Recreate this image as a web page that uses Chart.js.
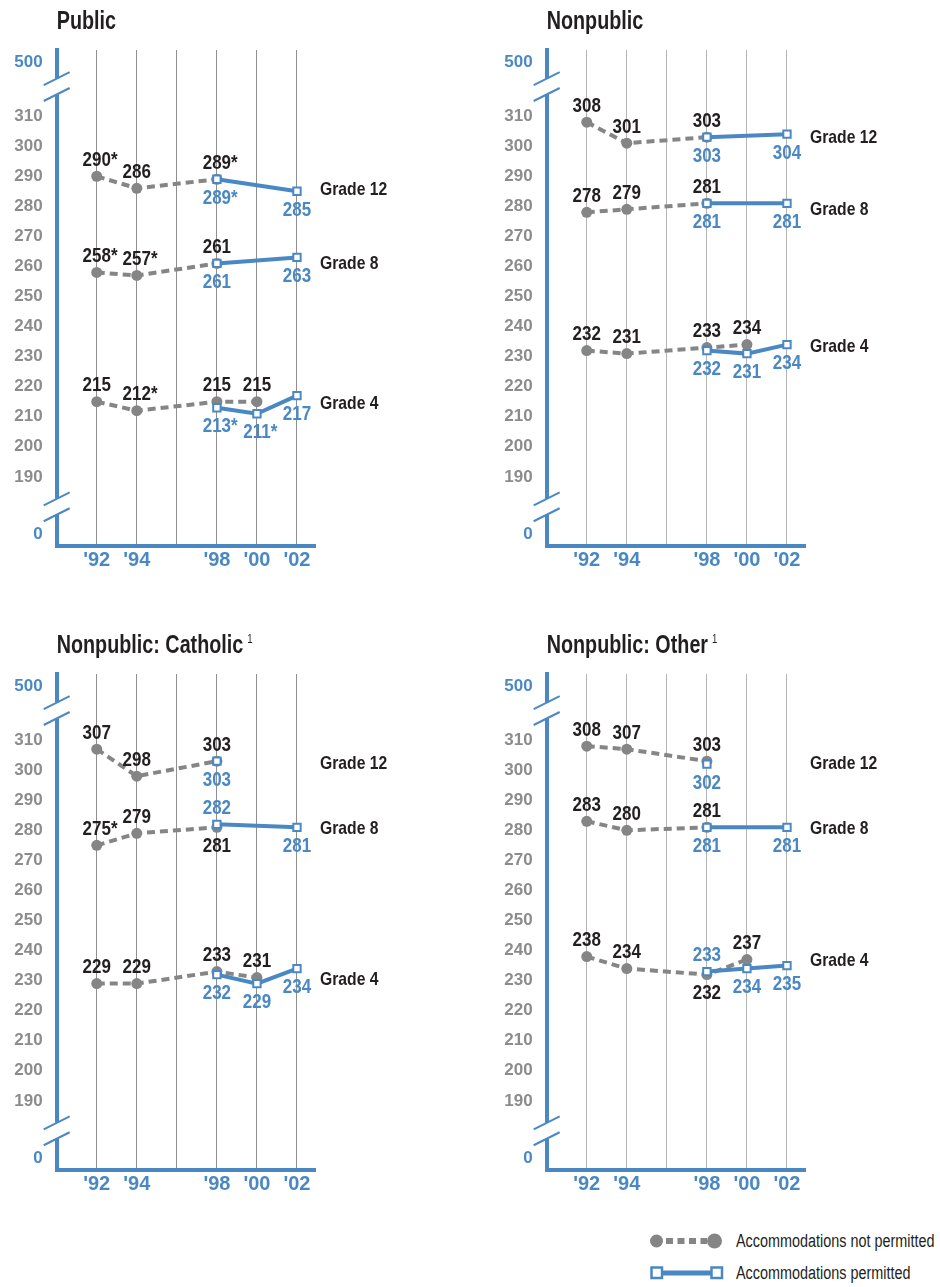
<!DOCTYPE html>
<html>
<head>
<meta charset="utf-8">
<script src="https://cdn.jsdelivr.net/npm/chart.js@4.4.0/dist/chart.umd.min.js"></script>
<style>
body { margin:0; background:#fff; width:940px; height:1287px; position:relative; overflow:hidden;
       font-family:'Liberation Sans',Arial,sans-serif; color:#231f20; }
canvas { position:absolute; }
.lg { position:absolute; left:650px; height:22px; display:flex; align-items:center; }
.lg span { position:absolute; left:86px; white-space:nowrap; font-size:18px; transform:scaleX(0.8); transform-origin:left center; }
</style>
</head>
<body>
<canvas id="c0" width="470" height="600" style="left:0;top:0"></canvas>
<canvas id="c1" width="450" height="600" style="left:490px;top:0"></canvas>
<canvas id="c2" width="470" height="600" style="left:0;top:624px"></canvas>
<canvas id="c3" width="450" height="600" style="left:490px;top:624px"></canvas>

<div class="lg" style="top:1230px">
  <svg width="74" height="18"><circle cx="6.5" cy="9" r="6.5" fill="#858585"/><line x1="16" y1="9" x2="57" y2="9" stroke="#858585" stroke-width="6" stroke-dasharray="7 4.5"/><circle cx="64.5" cy="9" r="7.5" fill="#858585"/></svg>
  <span>Accommodations not permitted</span>
</div>
<div class="lg" style="top:1262px">
  <svg width="74" height="18"><line x1="12" y1="9" x2="61" y2="9" stroke="#4a88c4" stroke-width="5"/><rect x="1.5" y="3.5" width="10.5" height="10.5" fill="#fff" stroke="#4a88c4" stroke-width="2.5"/><rect x="61.5" y="3.5" width="10.5" height="10.5" fill="#fff" stroke="#4a88c4" stroke-width="2.5"/></svg>
  <span>Accommodations permitted</span>
</div>

<script>
// years assessed and the gridline years on the x axis
const years = [1992, 1994, 1998, 2000, 2002];
const gridYears = [1992, 1994, 1996, 1998, 2000, 2002];
const xTickLabels = ["'92", "'94", "", "'98", "'00", "'02"];
// broken y axis: 0 and 500 sit beyond the breaks
const yTicks = [171, 190, 200, 210, 220, 230, 240, 250, 260, 270, 280, 290, 300, 310, 328];
const yTickLabels = ['0', '190', '200', '210', '220', '230', '240', '250', '260', '270', '280', '290', '300', '310', '500'];
const grades = ['Grade 12', 'Grade 8', 'Grade 4'];

// Public
const pubG12Not = [290, 286, 289, null, null];
const pubG12Acc = [null, null, 289, null, 285];
const pubG8Not = [258, 257, 261, null, null];
const pubG8Acc = [null, null, 261, null, 263];
const pubG4Not = [215, 212, 215, 215, null];
const pubG4Acc = [null, null, 213, 211, 217];
// * significantly different from 2002
const pubG12NotSig = [1, 0, 1, 0, 0];
const pubG12AccSig = [0, 0, 1, 0, 0];
const pubG8NotSig = [1, 1, 0, 0, 0];
const pubG4NotSig = [0, 1, 0, 0, 0];
const pubG4AccSig = [0, 0, 1, 1, 0];

// Nonpublic
const nonG12Not = [308, 301, 303, null, null];
const nonG12Acc = [null, null, 303, null, 304];
const nonG8Not = [278, 279, 281, null, null];
const nonG8Acc = [null, null, 281, null, 281];
const nonG4Not = [232, 231, 233, 234, null];
const nonG4Acc = [null, null, 232, 231, 234];

// Nonpublic: Catholic
const catG12Not = [307, 298, 303, null, null];
const catG12Acc = [null, null, 303, null, null];
const catG8Not = [275, 279, 281, null, null];
const catG8Acc = [null, null, 282, null, 281];
const catG4Not = [229, 229, 233, 231, null];
const catG4Acc = [null, null, 232, 229, 234];
const catG8NotSig = [1, 0, 0, 0, 0];

// Nonpublic: Other
const othG12Not = [308, 307, 303, null, null];
const othG12Acc = [null, null, 302, null, null];
const othG8Not = [283, 280, 281, null, null];
const othG8Acc = [null, null, 281, null, 281];
const othG4Not = [238, 234, 232, 237, null];
const othG4Acc = [null, null, 233, 234, 235];

// where the grade name sits (y value) and which points have the blue label on top
const pubGradeAt = [285.4, 261, 214.2];
const nonGradeAt = [302.6, 278.8, 233.3];
const catGradeAt = [302.1, 280.4, 230.4];
const othGradeAt = [302.1, 280.6, 236.5];
const catFlip = [[1, 2]];
const othFlip = [[2, 2]];

const none = [0, 0, 0, 0, 0];
const blue = '#4a88c4';
const gray = '#858585';
const tickGray = '#8c8c8c';
const ink = '#231f20';
const fam = "'Liberation Sans', Arial, sans-serif";
const breakHigh = [317.2, 322.5];
const breakLow = [177.4, 182.7];

const panels = [
  { id: 'c0', title: 'Public', note: '', right: 155, gridColor: '#8f8f8f',
    not: [pubG12Not, pubG8Not, pubG4Not], acc: [pubG12Acc, pubG8Acc, pubG4Acc],
    notSig: [pubG12NotSig, pubG8NotSig, pubG4NotSig], accSig: [pubG12AccSig, none, pubG4AccSig],
    gradeAt: pubGradeAt, flip: [] },
  { id: 'c1', title: 'Nonpublic', note: '', right: 135, gridColor: '#b5b5b5',
    not: [nonG12Not, nonG8Not, nonG4Not], acc: [nonG12Acc, nonG8Acc, nonG4Acc],
    notSig: [none, none, none], accSig: [none, none, none],
    gradeAt: nonGradeAt, flip: [] },
  { id: 'c2', title: 'Nonpublic: Catholic', note: '1', right: 155, gridColor: '#8f8f8f',
    not: [catG12Not, catG8Not, catG4Not], acc: [catG12Acc, catG8Acc, catG4Acc],
    notSig: [none, catG8NotSig, none], accSig: [none, none, none],
    gradeAt: catGradeAt, flip: catFlip },
  { id: 'c3', title: 'Nonpublic: Other', note: '1', right: 135, gridColor: '#b5b5b5',
    not: [othG12Not, othG8Not, othG4Not], acc: [othG12Acc, othG8Acc, othG4Acc],
    notSig: [none, none, none], accSig: [none, none, none],
    gradeAt: othGradeAt, flip: othFlip }
];

function pts(arr) {
  const out = [];
  arr.forEach((v, i) => { if (v !== null) out.push({ x: years[i], y: v }); });
  return out;
}

// squeezed text, to get close to the condensed face of the original
function condText(ctx, txt, x, y, align, sx) {
  ctx.save();
  ctx.translate(x, y);
  ctx.scale(sx, 1);
  ctx.textAlign = align;
  ctx.fillText(txt, 0, 0);
  ctx.restore();
  return ctx.measureText(txt).width * sx;
}

function drawValue(ctx, x, y, val, sig, color) {
  ctx.font = 'bold 20px ' + fam;
  ctx.fillStyle = color;
  ctx.textBaseline = 'middle';
  const txt = String(val);
  const w = condText(ctx, txt, x, y, 'center', 0.85);
  if (sig) condText(ctx, '*', x + w / 2, y, 'left', 0.85);
}

function textPlugin(p) {
  return {
    id: 'panelText',
    afterDraw(chart) {
      const ctx = chart.ctx, area = chart.chartArea;
      const xs = chart.scales.x, ys = chart.scales.y;
      ctx.save();
      // title
      ctx.font = 'bold 26px ' + fam;
      ctx.fillStyle = ink;
      ctx.textBaseline = 'alphabetic';
      const tw = condText(ctx, p.title, area.left, 29, 'left', 0.76);
      if (p.note) {
        ctx.font = '12px ' + fam;
        condText(ctx, p.note, area.left + tw + 4, 19, 'left', 0.8);
      }
      // axis breaks
      [breakHigh, breakLow].forEach(b => {
        const y1 = ys.getPixelForValue(b[1]), y2 = ys.getPixelForValue(b[0]);
        ctx.fillStyle = '#fff';
        ctx.fillRect(area.left - 3, y1, 6, y2 - y1);
        ctx.strokeStyle = blue;
        ctx.lineWidth = 2;
        [y1, y2].forEach(y => {
          ctx.beginPath();
          ctx.moveTo(area.left - 13, y + 6.5);
          ctx.lineTo(area.left + 13, y - 6.5);
          ctx.stroke();
        });
      });
      // value labels
      for (let g = 0; g < 3; g++) {
        for (let i = 0; i < years.length; i++) {
          const flipped = p.flip.some(f => f[0] === g && f[1] === i);
          const x = xs.getPixelForValue(years[i]);
          const nv = p.not[g][i], av = p.acc[g][i];
          if (nv !== null) drawValue(ctx, x, ys.getPixelForValue(nv) + (flipped ? 19 : -16), nv, p.notSig[g][i], ink);
          if (av !== null) drawValue(ctx, x, ys.getPixelForValue(av) + (flipped ? -16 : 19), av, p.accSig[g][i], blue);
        }
        ctx.font = 'bold 18.5px ' + fam;
        ctx.fillStyle = ink;
        ctx.textBaseline = 'middle';
        condText(ctx, grades[g], area.right + 5, ys.getPixelForValue(p.gradeAt[g]), 'left', 0.85);
      }
      ctx.restore();
    }
  };
}

panels.forEach(p => {
  const datasets = [];
  for (let g = 0; g < 3; g++) {
    datasets.push({
      label: grades[g] + ' accommodations permitted', data: pts(p.acc[g]), order: 1,
      borderColor: blue, borderWidth: 4, pointStyle: 'rect', pointRadius: 5.2,
      pointBackgroundColor: '#fff', pointBorderColor: blue, pointBorderWidth: 2
    });
    datasets.push({
      label: grades[g] + ' accommodations not permitted', data: pts(p.not[g]), order: 2,
      borderColor: gray, borderWidth: 4, borderDash: [8, 5], pointStyle: 'circle', pointRadius: 5.5,
      pointBackgroundColor: gray, pointBorderColor: gray, pointBorderWidth: 0
    });
  }
  new Chart(document.getElementById(p.id), {
    type: 'line',
    data: { datasets: datasets },
    options: {
      responsive: false,
      animation: false,
      layout: { padding: { top: 50, right: p.right, bottom: 24, left: 0 } },
      plugins: { legend: { display: false }, tooltip: { enabled: false } },
      scales: {
        x: {
          type: 'linear', min: 1990, max: 2002.9,
          afterBuildTicks: s => { s.ticks = gridYears.map(v => ({ value: v })); },
          afterFit: s => { s.height = 30; },
          grid: { color: p.gridColor, lineWidth: 1, drawTicks: false },
          border: { color: blue, width: 4 },
          ticks: {
            autoSkip: false, maxRotation: 0, padding: 2, color: blue,
            font: { family: fam, size: 20, weight: 'bold' },
            callback: (v, i) => xTickLabels[i]
          }
        },
        y: {
          min: 167, max: 332,
          afterBuildTicks: s => { s.ticks = yTicks.map(v => ({ value: v })); },
          afterFit: s => { s.width = 56.7; },
          grid: { display: false, drawTicks: false },
          border: { color: blue, width: 4 },
          ticks: {
            autoSkip: false, padding: 14,
            font: { family: fam, size: 17, weight: 'bold' },
            color: c => (c.index === 0 || c.index === yTicks.length - 1) ? blue : tickGray,
            callback: (v, i) => yTickLabels[i]
          }
        }
      }
    },
    plugins: [textPlugin(p)]
  });
});
</script>
</body>
</html>
